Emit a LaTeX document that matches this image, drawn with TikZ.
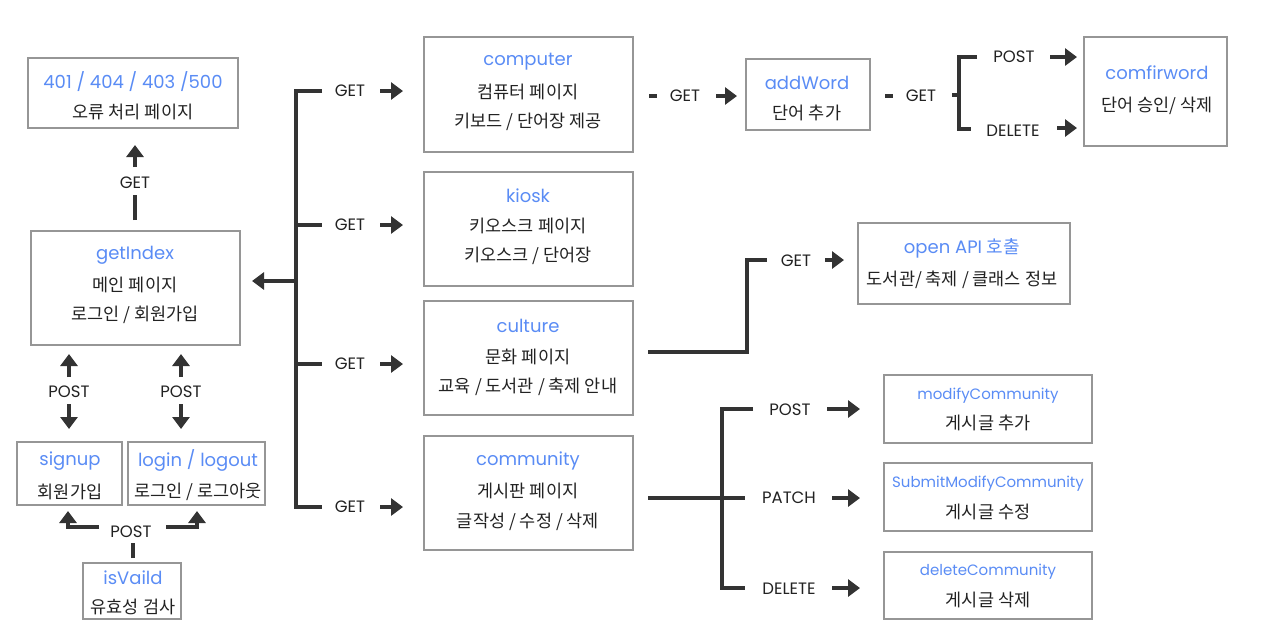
\documentclass[tikz,border=0pt]{standalone}
\usepackage{fontspec}
\setmainfont{Poppins}
\newfontfamily\kr{Noto Sans CJK KR}
\usetikzlibrary{arrows.meta,fit}
\definecolor{tblue}{RGB}{90,140,245}
\definecolor{tdark}{RGB}{34,34,34}
\definecolor{ldark}{RGB}{51,51,51}
\definecolor{bgray}{RGB}{150,150,150}
\begin{document}
\begin{tikzpicture}[x=1pt,y=-1pt,
 box/.style={draw=bgray,line width=2.5pt,inner sep=0pt},
 ttl/.style={text=tblue,font=\fontsize{18}{20}\selectfont,inner sep=0pt},
 sttl/.style={text=tblue,font=\fontsize{15}{17}\selectfont,inner sep=0pt},
 kor/.style={text=tdark,font=\kr\fontsize{17.5}{19}\selectfont,inner sep=0pt},
 lbl/.style={text=tdark,font=\fontsize{16.5}{18}\selectfont,inner sep=0pt},
 ln/.style={draw=ldark,line width=4pt},
 arr/.style={ln,-{Triangle[width=17pt,length=12pt]}}]
\useasboundingbox[fill=white] (0,0) rectangle (1261,633);

% ---------- boxes ----------
\node[box,fit={(28,58) (238,128)}] (err) {};
\node[box,fit={(31,231) (240,345)}] (index) {};
\node[box,fit={(17,442) (122,505)}] (signup) {};
\node[box,fit={(128,442) (265,505)}] (login) {};
\node[box,fit={(83,563) (181,619)}] (valid) {};
\node[box,fit={(424,37) (633,152)}] (computer) {};
\node[box,fit={(424,172) (633,286)}] (kiosk) {};
\node[box,fit={(424,301) (633,415)}] (culture) {};
\node[box,fit={(424,436) (633,550)}] (community) {};
\node[box,fit={(746,59) (870,130)}] (addword) {};
\node[box,fit={(1084,37) (1227,146)}] (confirm) {};
\node[box,fit={(858,223) (1070,304)}] (openapi) {};
\node[box,fit={(884,375) (1092,443)}] (modify) {};
\node[box,fit={(884,463) (1092,531)}] (submit) {};
\node[box,fit={(884,552) (1092,619)}] (delcom) {};

% ---------- box texts ----------
\node[ttl] (err-a) at (133,82) {401 / 404 / 403 /500};
\node[kor] (err-b) at (133,112) {오류 처리 페이지};
\node[ttl] (index-a) at (135,255) {getIndex};
\node[kor] (index-b) at (135,285) {메인 페이지};
\node[kor] (index-c) at (135,315) {로그인 / 회원가입};
\node[ttl] (signup-a) at (70,461) {signup};
\node[kor] (signup-b) at (70,492) {회원가입};
\node[ttl] (login-a) at (198,460) {login / logout};
\node[kor] (login-b) at (198,492) {로그인 / 로그아웃};
\node[ttl] (valid-a) at (133,578) {isVaild};
\node[kor] (valid-b) at (133,607) {유효성 검사};
\node[ttl] (computer-a) at (528,62) {computer};
\node[kor] (computer-b) at (528,92) {컴퓨터 페이지};
\node[kor] (computer-c) at (528,122) {키보드 / 단어장 제공};
\node[ttl] (kiosk-a) at (528,196) {kiosk};
\node[kor] (kiosk-b) at (528,226) {키오스크 페이지};
\node[kor] (kiosk-c) at (528,256) {키오스크 / 단어장};
\node[ttl] (culture-a) at (528,326) {culture};
\node[kor] (culture-b) at (528,357) {문화 페이지};
\node[kor] (culture-c) at (528,387) {교육 / 도서관 / 축제 안내};
\node[ttl] (community-a) at (528,461) {community};
\node[kor] (community-b) at (528,491) {게시판 페이지};
\node[kor] (community-c) at (528,522) {글작성 / 수정 / 삭제};
\node[ttl] (addword-a) at (807,83) {addWord};
\node[kor] (addword-b) at (807,113) {단어 추가};
\node[ttl] (confirm-a) at (1157,73) {comfirword};
\node[kor] (confirm-b) at (1157,106) {단어 승인/ 삭제};
\node[ttl] (openapi-a) at (962,248) {open API {\kr 호출}};
\node[kor] (openapi-b) at (962,280) {도서관/ 축제 / 클래스 정보};
\node[sttl] (modify-a) at (988,396) {modifyCommunity};
\node[kor] (modify-b) at (988,423) {게시글 추가};
\node[sttl] (submit-a) at (988,484) {SubmitModifyCommunity};
\node[kor] (submit-b) at (988,512) {게시글 수정};
\node[sttl] (delcom-a) at (988,572) {deleteCommunity};
\node[kor] (delcom-b) at (988,600) {게시글 삭제};

% ---------- method labels ----------
\node[lbl] (gErr) at (135,183) {GET};
\node[lbl] (pS) at (69,392) {POST};
\node[lbl] (pL) at (181,392) {POST};
\node[lbl] (pV) at (131,532) {POST};
\node[lbl] (g1) at (350,91) {GET};
\node[lbl] (g2) at (350,225) {GET};
\node[lbl] (g3) at (350,364) {GET};
\node[lbl] (g4) at (350,507) {GET};
\node[lbl] (g5) at (685,96) {GET};
\node[lbl] (g6) at (921,96) {GET};
\node[lbl] (pC) at (1014,57) {POST};
\node[lbl] (dC) at (1013,131) {DELETE};
\node[lbl] (g7) at (796,261) {GET};
\node[lbl] (pM) at (790,410) {POST};
\node[lbl] (aM) at (789,498) {PATCH};
\node[lbl] (dM) at (789,589) {DELETE};

% ---------- coordinates ----------
\coordinate (e1) at (135,220); \coordinate (e2) at (135,195);
\coordinate (e3) at (135,167); \coordinate (e4) at (135,145);
\coordinate (su1) at (69,377); \coordinate (su2) at (69,354);
\coordinate (sd1) at (69,404); \coordinate (sd2) at (69,429);
\coordinate (lu1) at (181,377); \coordinate (lu2) at (181,354);
\coordinate (ld1) at (181,404); \coordinate (ld2) at (181,429);
\coordinate (v0) at (133,558); \coordinate (v00) at (133,543);
\coordinate (vl1) at (99,527); \coordinate (vl2) at (68,511);
\coordinate (vr1) at (166,527); \coordinate (vr2) at (197,511);
\coordinate (sp1) at (296,91); \coordinate (sp4) at (296,507);
\coordinate (sp2) at (296,225); \coordinate (sp3) at (296,364);
\coordinate (spm) at (296,281); \coordinate (spt) at (252,281);
\coordinate (s1) at (322,91); \coordinate (s2) at (322,225);
\coordinate (s3) at (322,364); \coordinate (s4) at (322,507);
\coordinate (a1) at (380,91); \coordinate (b1) at (403,91);
\coordinate (a2) at (380,225); \coordinate (b2) at (403,225);
\coordinate (a3) at (380,364); \coordinate (b3) at (403,364);
\coordinate (a4) at (380,507); \coordinate (b4) at (403,507);
\coordinate (c1) at (649,96); \coordinate (c2) at (657,96);
\coordinate (c3) at (716,96); \coordinate (c4) at (737,96);
\coordinate (w1) at (885,96); \coordinate (w2) at (893,96);
\coordinate (w3) at (952,95); \coordinate (w4) at (959,95);
\coordinate (bt) at (977,57); \coordinate (bv1) at (959,57);
\coordinate (bv2) at (959,129); \coordinate (bb) at (971,129);
\coordinate (pa1) at (1050,57); \coordinate (pa2) at (1077,57);
\coordinate (da1) at (1057,128); \coordinate (da2) at (1077,128);
\coordinate (o1) at (648,352); \coordinate (o2) at (747,352);
\coordinate (o3) at (747,260); \coordinate (o4) at (767,260);
\coordinate (oa1) at (825,260); \coordinate (oa2) at (844,260);
\coordinate (m1) at (648,498); \coordinate (m2) at (722,498);
\coordinate (mt) at (753,409); \coordinate (mv1) at (722,409);
\coordinate (mv2) at (722,588); \coordinate (mb) at (745,588);
\coordinate (mm) at (745,498);
\coordinate (ma1) at (827,409); \coordinate (ma2) at (860,409);
\coordinate (mb1) at (832,498); \coordinate (mb2) at (860,498);
\coordinate (mc1) at (832,588); \coordinate (mc2) at (860,588);

% ---------- connectors ----------
\draw[ln] (e1) -- (e2);
\draw[arr] (e3) -- (e4);
\draw[arr] (su1) -- (su2);
\draw[arr] (sd1) -- (sd2);
\draw[arr] (lu1) -- (lu2);
\draw[arr] (ld1) -- (ld2);
\draw[ln] (v0) -- (v00);
\draw[arr] (vl1) -| (vl2);
\draw[arr] (vr1) -| (vr2);
\draw[ln] (s1) -- (sp1) -- (sp4) -- (s4);
\draw[ln] (sp2) -- (s2);
\draw[ln] (sp3) -- (s3);
\draw[arr] (spm) -- (spt);
\draw[arr] (a1) -- (b1);
\draw[arr] (a2) -- (b2);
\draw[arr] (a3) -- (b3);
\draw[arr] (a4) -- (b4);
\draw[ln] (c1) -- (c2);
\draw[arr] (c3) -- (c4);
\draw[ln] (w1) -- (w2);
\draw[ln] (w3) -- (w4);
\draw[ln] (bt) -- (bv1) -- (bv2) -- (bb);
\draw[arr] (pa1) -- (pa2);
\draw[arr] (da1) -- (da2);
\draw[ln] (o1) -- (o2) -- (o3) -- (o4);
\draw[arr] (oa1) -- (oa2);
\draw[ln] (m1) -- (m2);
\draw[ln] (mt) -- (mv1) -- (mv2) -- (mb);
\draw[ln] (m2) -- (mm);
\draw[arr] (ma1) -- (ma2);
\draw[arr] (mb1) -- (mb2);
\draw[arr] (mc1) -- (mc2);
\end{tikzpicture}
\end{document}
